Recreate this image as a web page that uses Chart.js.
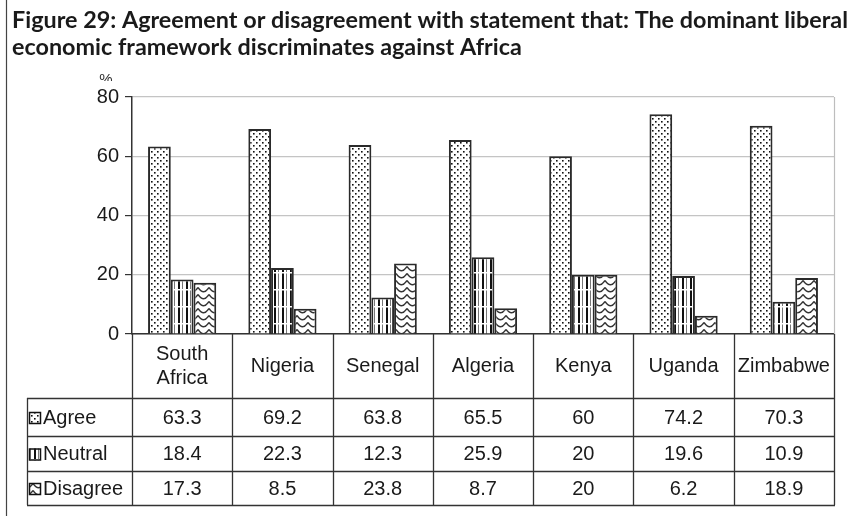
<!DOCTYPE html>
<html>
<head>
<meta charset="utf-8">
<script src="https://cdn.jsdelivr.net/npm/chart.js@4"></script>
<style>
  html, body { margin: 0; padding: 0; background: #fff; }
  #wrap { position: relative; width: 863px; height: 516px; }
</style>
</head>
<body>
<div id="wrap"><canvas id="fig29" width="863" height="516"></canvas></div>
<script>
// Survey results, % of respondents
const countries = [["South", "Africa"], "Nigeria", "Senegal", "Algeria", "Kenya", "Uganda", "Zimbabwe"];
const agree    = [63.3, 69.2, 63.8, 65.5, 60, 74.2, 70.3];
const neutral  = [18.4, 22.3, 12.3, 25.9, 20, 19.6, 10.9];
const disagree = [17.3, 8.5, 23.8, 8.7, 20, 6.2, 18.9];
const yTicks   = [0, 20, 40, 60, 80];

const titleLines = [
    "Figure 29: Agreement or disagreement with statement that: The dominant liberal",
    "economic framework discriminates against Africa"
];

const LINE = "#333";
const TEXT = "#1a1a1a";
const FONT = "'Liberation Sans', Arial, sans-serif";

// small tiles for the black & white fills
function makeTile(w, h, paint) {
    const c = document.createElement("canvas");
    c.width = w; c.height = h;
    const g = c.getContext("2d");
    g.fillStyle = "#fff";
    g.fillRect(0, 0, w, h);
    paint(g);
    return c;
}

const dotsTile = makeTile(6, 6, g => {
    g.fillStyle = "#111";
    g.fillRect(1, 1, 1.6, 1.6);
    g.fillRect(4, 4, 1.6, 1.6);
});

const stripeTile = makeTile(8, 17, g => {
    g.fillStyle = "#111";
    g.fillRect(2, 0, 2, 17);
    g.fillStyle = "#777";
    g.fillRect(6, 0, 1, 17);
    g.fillStyle = "#fff";
    g.fillRect(0, 0, 8, 1.5);
});

const waveTile = makeTile(11, 7, g => {
    g.strokeStyle = "#333";
    g.lineWidth = 1.5;
    g.beginPath();
    g.moveTo(0, 0.5);
    g.quadraticCurveTo(5.5, 9, 11, 0.5);
    g.stroke();
});

const ctx = document.getElementById("fig29").getContext("2d");
const fills = [
    ctx.createPattern(dotsTile, "repeat"),
    ctx.createPattern(stripeTile, "repeat"),
    ctx.createPattern(waveTile, "repeat")
];
const seriesNames = ["Agree", "Neutral", "Disagree"];
const seriesData = [agree, neutral, disagree];

// title, data table under the axis and frame line
const tablePlugin = {
    id: "tablePlugin",
    afterDraw(chart) {
        const c = chart.ctx;
        const area = chart.chartArea;
        const x = chart.scales.x;
        const n = countries.length;
        const step = (area.right - area.left) / n;
        const headTop = area.bottom, headBot = 398;
        const rows = [398, 436, 471, 505];
        const tableLeft = 27;

        c.save();

        // left frame line
        c.strokeStyle = "#444";
        c.lineWidth = 1.2;
        c.beginPath();
        c.moveTo(6.5, 0); c.lineTo(6.5, 516);
        c.stroke();

        // title, squeezed to the column width
        c.fillStyle = TEXT;
        c.textBaseline = "alphabetic";
        c.textAlign = "left";
        c.font = "bold 22px Lato, sans-serif";
        const w0 = c.measureText(titleLines[0]).width;
        const sx = 836 / w0;
        titleLines.forEach((t, i) => {
            c.save();
            c.translate(12, 28 + i * 27);
            c.scale(sx, 1);
            c.fillText(t, 0, 0);
            c.restore();
        });

        // "%" unit, mostly hidden under the title block
        c.save();
        c.beginPath();
        c.rect(90, 73, 40, 8);
        c.clip();
        c.font = "15px " + FONT;
        c.textAlign = "center";
        c.fillStyle = "#333";
        c.fillText("%", 106, 84);
        c.restore();

        // table grid
        c.strokeStyle = LINE;
        c.lineWidth = 1.3;
        c.beginPath();
        for (let i = 0; i <= n; i++) {
            const vx = Math.round(area.left + i * step) + 0.5;
            c.moveTo(vx, headTop);
            c.lineTo(vx, rows[3]);
        }
        c.moveTo(tableLeft + 0.5, rows[0]);
        c.lineTo(tableLeft + 0.5, rows[3]);
        rows.forEach(ry => {
            c.moveTo(tableLeft, ry + 0.5);
            c.lineTo(area.right + 1, ry + 0.5);
        });
        c.stroke();

        // header labels
        c.fillStyle = TEXT;
        c.font = "20px " + FONT;
        c.textAlign = "center";
        c.textBaseline = "middle";
        countries.forEach((name, i) => {
            const cx = x.getPixelForValue(i);
            const lines = Array.isArray(name) ? name : [name];
            const mid = (headTop + headBot) / 2;
            lines.forEach((l, j) => {
                c.fillText(l, cx, mid + (j - (lines.length - 1) / 2) * 24);
            });
        });

        // series rows
        seriesData.forEach((vals, r) => {
            const mid = (rows[r] + rows[r + 1]) / 2 + 1;
            // legend key
            c.fillStyle = fills[r];
            c.fillRect(29, mid - 6, 12, 12);
            c.strokeStyle = "#111";
            c.lineWidth = 1.5;
            c.strokeRect(29.5, mid - 5.5, 11, 11);
            c.fillStyle = TEXT;
            c.textAlign = "left";
            c.fillText(seriesNames[r], 43, mid);
            c.textAlign = "center";
            vals.forEach((v, i) => c.fillText(String(v), x.getPixelForValue(i), mid));
        });

        // plot frame on the right
        c.strokeStyle = "#bdbdbd";
        c.lineWidth = 1.2;
        c.beginPath();
        c.moveTo(area.right + 0.5, area.top);
        c.lineTo(area.right + 0.5, area.bottom);
        c.stroke();

        c.restore();
    }
};

new Chart(ctx, {
    type: "bar",
    data: {
        labels: countries,
        datasets: seriesNames.map((name, i) => ({
            label: name,
            data: seriesData[i],
            backgroundColor: fills[i],
            borderColor: "#2a2a2a",
            borderWidth: 2,
            barPercentage: 1.0,
            categoryPercentage: 0.68
        }))
    },
    options: {
        responsive: false,
        animation: false,
        layout: { padding: { top: 97, right: 29, left: 0, bottom: 0 } },
        plugins: {
            legend: { display: false },
            tooltip: { enabled: false }
        },
        scales: {
            x: {
                ticks: { display: false },
                grid: { display: false },
                border: { color: LINE, width: 1.5 },
                afterFit: s => { s.height = 516 - 334; }
            },
            y: {
                min: yTicks[0],
                max: yTicks[yTicks.length - 1],
                afterBuildTicks: s => { s.ticks = yTicks.map(v => ({ value: v })); },
                ticks: {
                    color: TEXT,
                    font: { family: FONT, size: 20 },
                    padding: 6
                },
                grid: {
                    color: "#c4c4c4",
                    lineWidth: 1.2,
                    tickLength: 7,
                    tickColor: LINE
                },
                border: { color: LINE, width: 1.5 },
                afterFit: s => { s.width = 132; }
            }
        }
    },
    plugins: [tablePlugin]
});
</script>
</body>
</html>
